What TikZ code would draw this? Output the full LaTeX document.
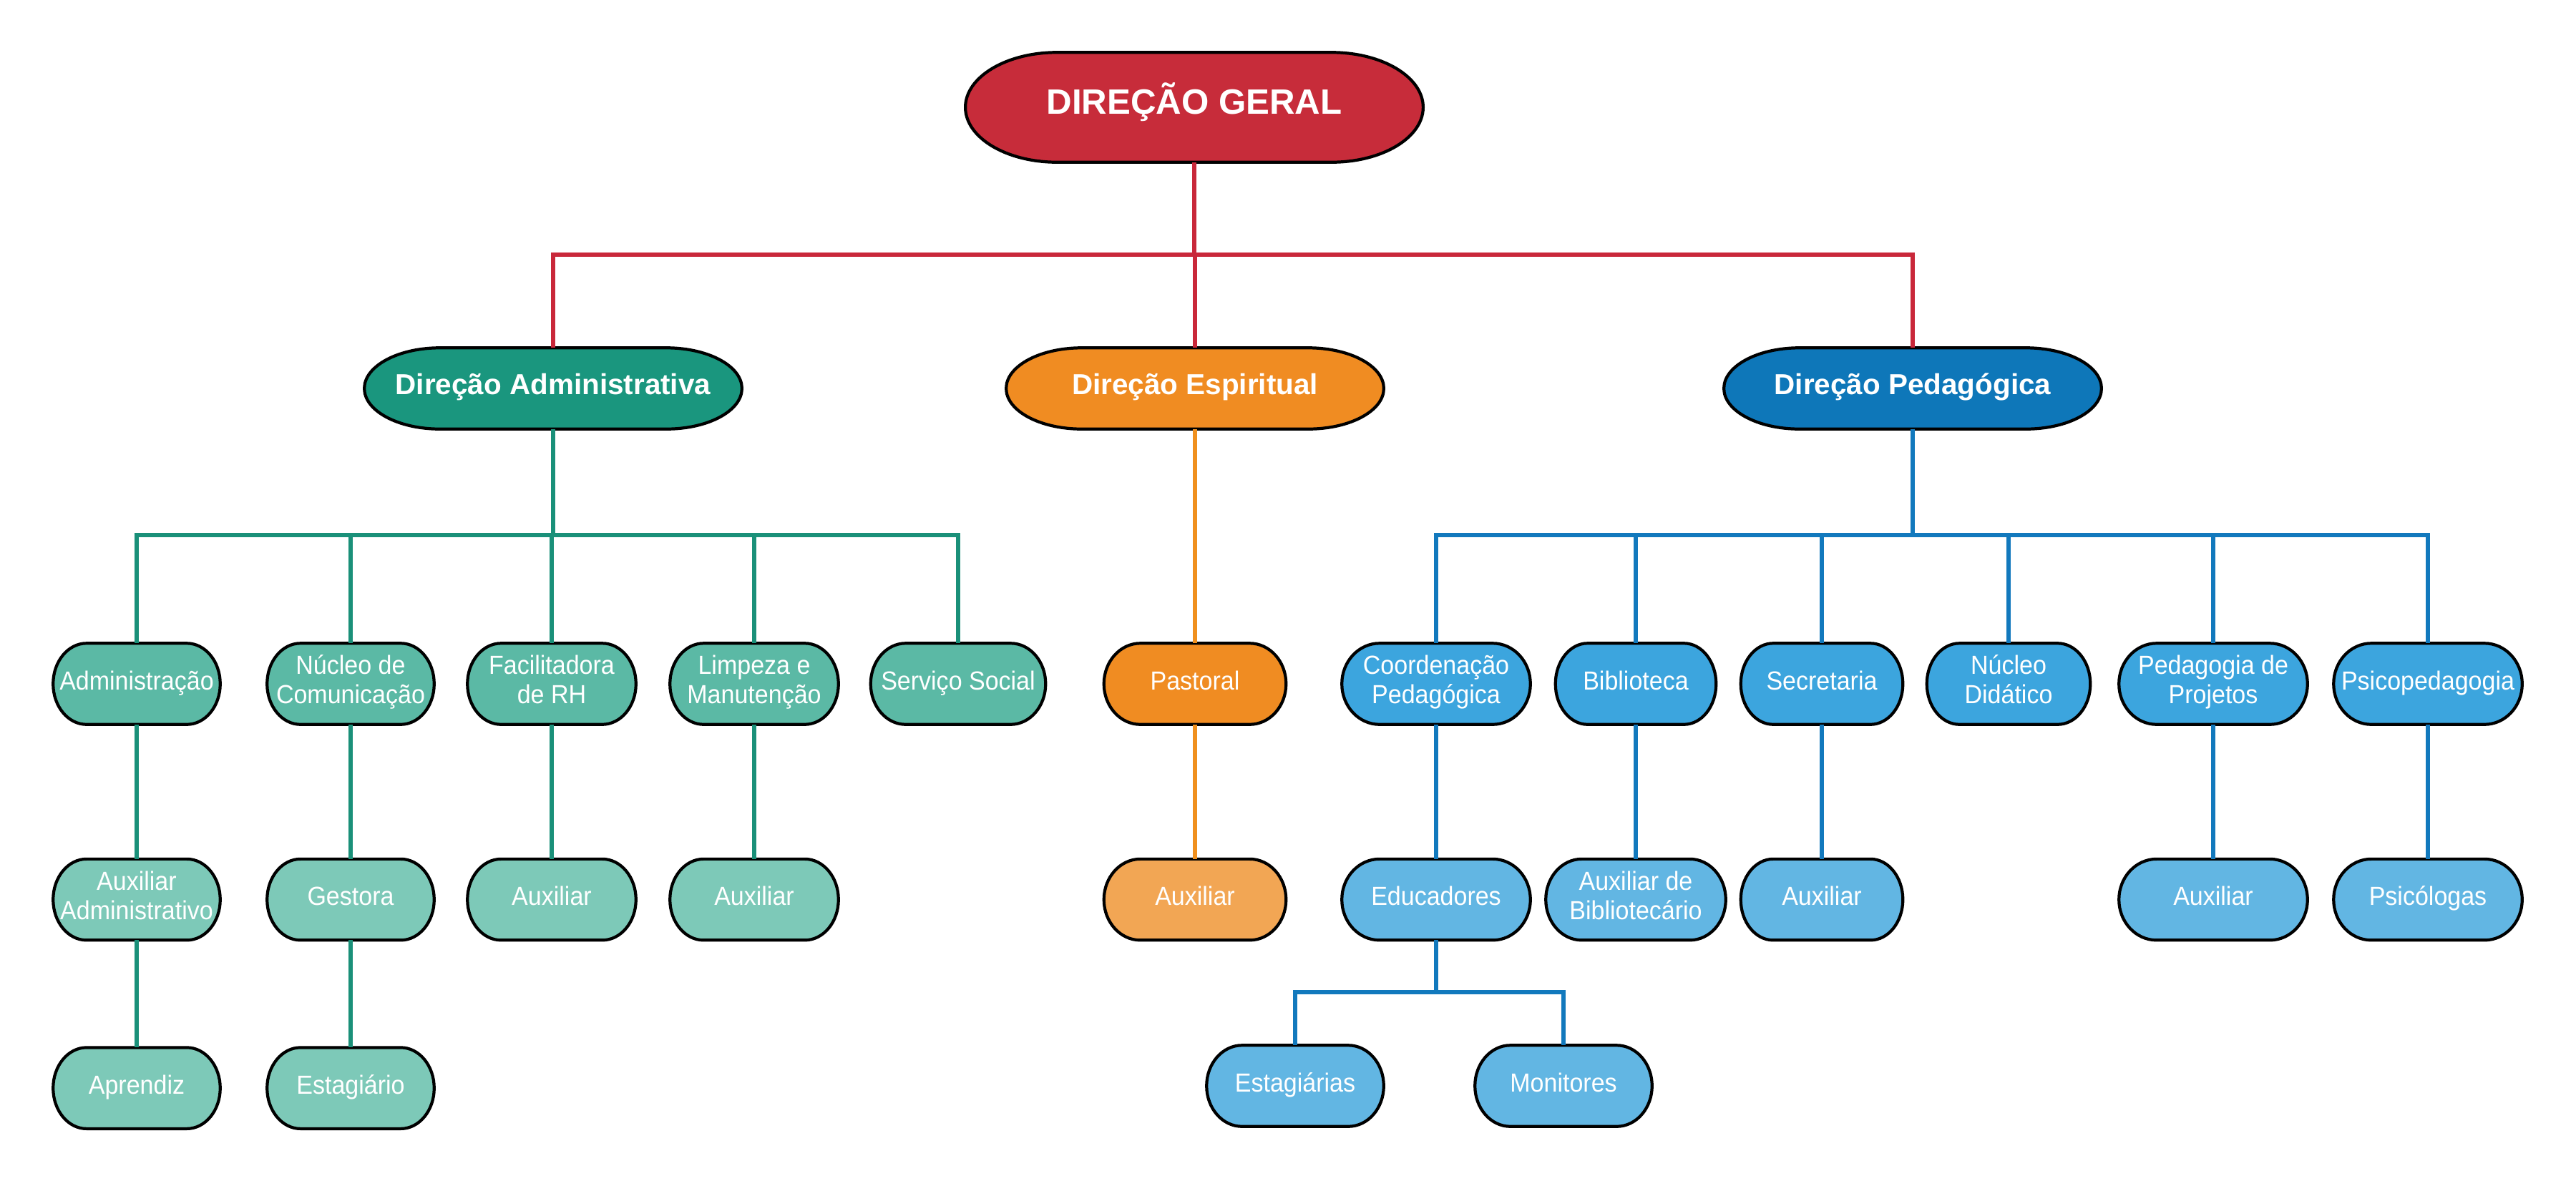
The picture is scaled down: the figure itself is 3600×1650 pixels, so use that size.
\documentclass[tikz,border=0pt]{standalone}
\usepackage{fontspec}
\setmainfont{Liberation Sans}
\newfontfamily\narrowsans[FakeStretch=0.93]{Liberation Sans}
\usetikzlibrary{positioning,calc,backgrounds}
\definecolor{geralFill}{HTML}{C72C3A}
\definecolor{geralLine}{HTML}{C9283A}
\definecolor{admDark}{HTML}{1A967E}
\definecolor{admMid}{HTML}{5BB9A5}
\definecolor{admLight}{HTML}{7DC9B8}
\definecolor{admLine}{HTML}{1A9079}
\definecolor{espDark}{HTML}{F08C22}
\definecolor{espLight}{HTML}{F2A654}
\definecolor{espLine}{HTML}{F0901E}
\definecolor{pedDark}{HTML}{0E77B9}
\definecolor{pedMid}{HTML}{3CA5DE}
\definecolor{pedLight}{HTML}{62B6E3}
\definecolor{pedLine}{HTML}{1279BD}
\tikzset{
  pillborder/.style={draw=black, line width=1.2pt},
  head/.style={minimum width=6.38cm, minimum height=1.52cm, inner sep=0pt, text depth=0.72em,
               text=white, font=\fontsize{14}{17}\selectfont\bfseries},
  dir/.style={minimum width=5.26cm, minimum height=1.12cm, inner sep=0pt, text depth=0.36em,
              text=white, font=\fontsize{11.5}{14}\selectfont\bfseries},
  unit/.style={minimum width=#1, minimum height=1.12cm, inner sep=0pt, align=center,
               text=white, font=\narrowsans\fontsize{10.4}{11.7}\selectfont,
               execute at begin node=\strut, execute at end node=\strut},
  unit/.default=2.32cm,
  link/.style={line width=1.8pt},
}
% pill outline drawn behind a named node
\newcommand{\pill}[2]{%
  \draw[pillborder, fill=#2]
    let \p1=(#1.north west), \p2=(#1.south east),
        \n1={0.2*(\x2-\x1)}, \n2={0.5*(\y1-\y2)} in
    (\x1+\n1,\y1) -- (\x2-\n1,\y1)
    arc[start angle=90, end angle=-90, x radius=\n1, y radius=\n2]
    -- (\x1+\n1,\y2)
    arc[start angle=270, end angle=90, x radius=\n1, y radius=\n2] -- cycle;}

\begin{document}
\begin{tikzpicture}[x=0.01cm, y=-0.01cm, node distance=18.8mm]
  \useasboundingbox (0,0) rectangle (3600,1650);

  \node[head] (geral) at (1669,150) {DIREÇÃO GERAL};
  \node[dir] (dadm) at (773,543) {Direção Administrativa};
  \node[dir] (desp) at (1670,543) {Direção Espiritual};
  \node[dir] (dped) at (2673,543) {Direção Pedagógica};
  \coordinate (busR) at (0,356);
  \coordinate (busG) at (0,748);
  \coordinate (busB) at (0,748);
  \coordinate (busE) at (0,1387);

  % administrativa
  \node[unit] (adm) at (191,956) {Administração};
  \node[unit] (ncom) at (490,956) {Núcleo de\\Comunicação};
  \node[unit=2.34cm] (rh) at (771,956) {Facilitadora\\de RH};
  \node[unit=2.34cm] (limp) at (1054,956) {Limpeza e\\Manutenção};
  \node[unit=2.43cm] (social) at (1339,956) {Serviço Social};
  \node[unit, below=of adm] (auxadm) {Auxiliar\\Administrativo};
  \node[unit, below=of ncom] (gest) {Gestora};
  \node[unit=2.34cm, below=of rh] (auxrh) {Auxiliar};
  \node[unit=2.34cm, below=of limp] (auxlimp) {Auxiliar};
  \node[unit, below=15mm of auxadm] (apr) {Aprendiz};
  \node[unit, below=15mm of gest] (estag) {Estagiário};

  % espiritual
  \node[unit=2.53cm] (past) at (1670,956) {Pastoral};
  \node[unit=2.53cm, below=of past] (auxpast) {Auxiliar};

  % pedagogica
  \node[unit=2.62cm] (coord) at (2007,956) {Coordenação\\Pedagógica};
  \node[unit=2.23cm] (bib) at (2286,956) {Biblioteca};
  \node[unit=2.25cm] (sec) at (2546,956) {Secretaria};
  \node[unit=2.27cm] (ndid) at (2807,956) {Núcleo\\Didático};
  \node[unit=2.62cm] (proj) at (3093,956) {Pedagogia de\\Projetos};
  \node[unit=2.62cm] (psico) at (3393,956) {Psicopedagogia};
  \node[unit=2.62cm, below=of coord] (educ) {Educadores};
  \node[unit=2.5cm, below=of bib] (auxbib) {Auxiliar de\\Bibliotecário};
  \node[unit=2.25cm, below=of sec] (auxsec) {Auxiliar};
  \node[unit=2.62cm, below=of proj] (auxproj) {Auxiliar};
  \node[unit=2.62cm, below=of psico] (psicol) {Psicólogas};
  \node[unit=2.46cm] (estags) at (1810,1518) {Estagiárias};
  \node[unit=2.46cm] (monit) at (2185,1518) {Monitores};

  % connectors
  \foreach \c in {dadm,desp,dped}
    \draw[link, geralLine] (geral.south) -- (geral.south |- busR) -| (\c.north);
  \foreach \c in {adm,ncom,rh,limp,social}
    \draw[link, admLine] (dadm.south) -- (dadm.south |- busG) -| (\c.north);
  \foreach \a/\b in {adm/auxadm, ncom/gest, rh/auxrh, limp/auxlimp, auxadm/apr, gest/estag}
    \draw[link, admLine] (\a.south) -- (\b.north);
  \draw[link, espLine] (desp.south) -- (past.north);
  \draw[link, espLine] (past.south) -- (auxpast.north);
  \foreach \c in {coord,bib,sec,ndid,proj,psico}
    \draw[link, pedLine] (dped.south) -- (dped.south |- busB) -| (\c.north);
  \foreach \a/\b in {coord/educ, bib/auxbib, sec/auxsec, proj/auxproj, psico/psicol}
    \draw[link, pedLine] (\a.south) -- (\b.north);
  \foreach \c in {estags,monit}
    \draw[link, pedLine] (educ.south) -- (educ.south |- busE) -| (\c.north);

  % shapes behind the text
  \begin{scope}[on background layer]
    \pill{geral}{geralFill}
    \pill{dadm}{admDark}
    \pill{desp}{espDark}
    \pill{dped}{pedDark}
    \foreach \nd in {adm,ncom,rh,limp,social} \pill{\nd}{admMid};
    \foreach \nd in {auxadm,gest,auxrh,auxlimp,apr,estag} \pill{\nd}{admLight};
    \pill{past}{espDark}
    \pill{auxpast}{espLight}
    \foreach \nd in {coord,bib,sec,ndid,proj,psico} \pill{\nd}{pedMid};
    \foreach \nd in {educ,auxbib,auxsec,auxproj,psicol,estags,monit} \pill{\nd}{pedLight};
  \end{scope}
\end{tikzpicture}
\end{document}
